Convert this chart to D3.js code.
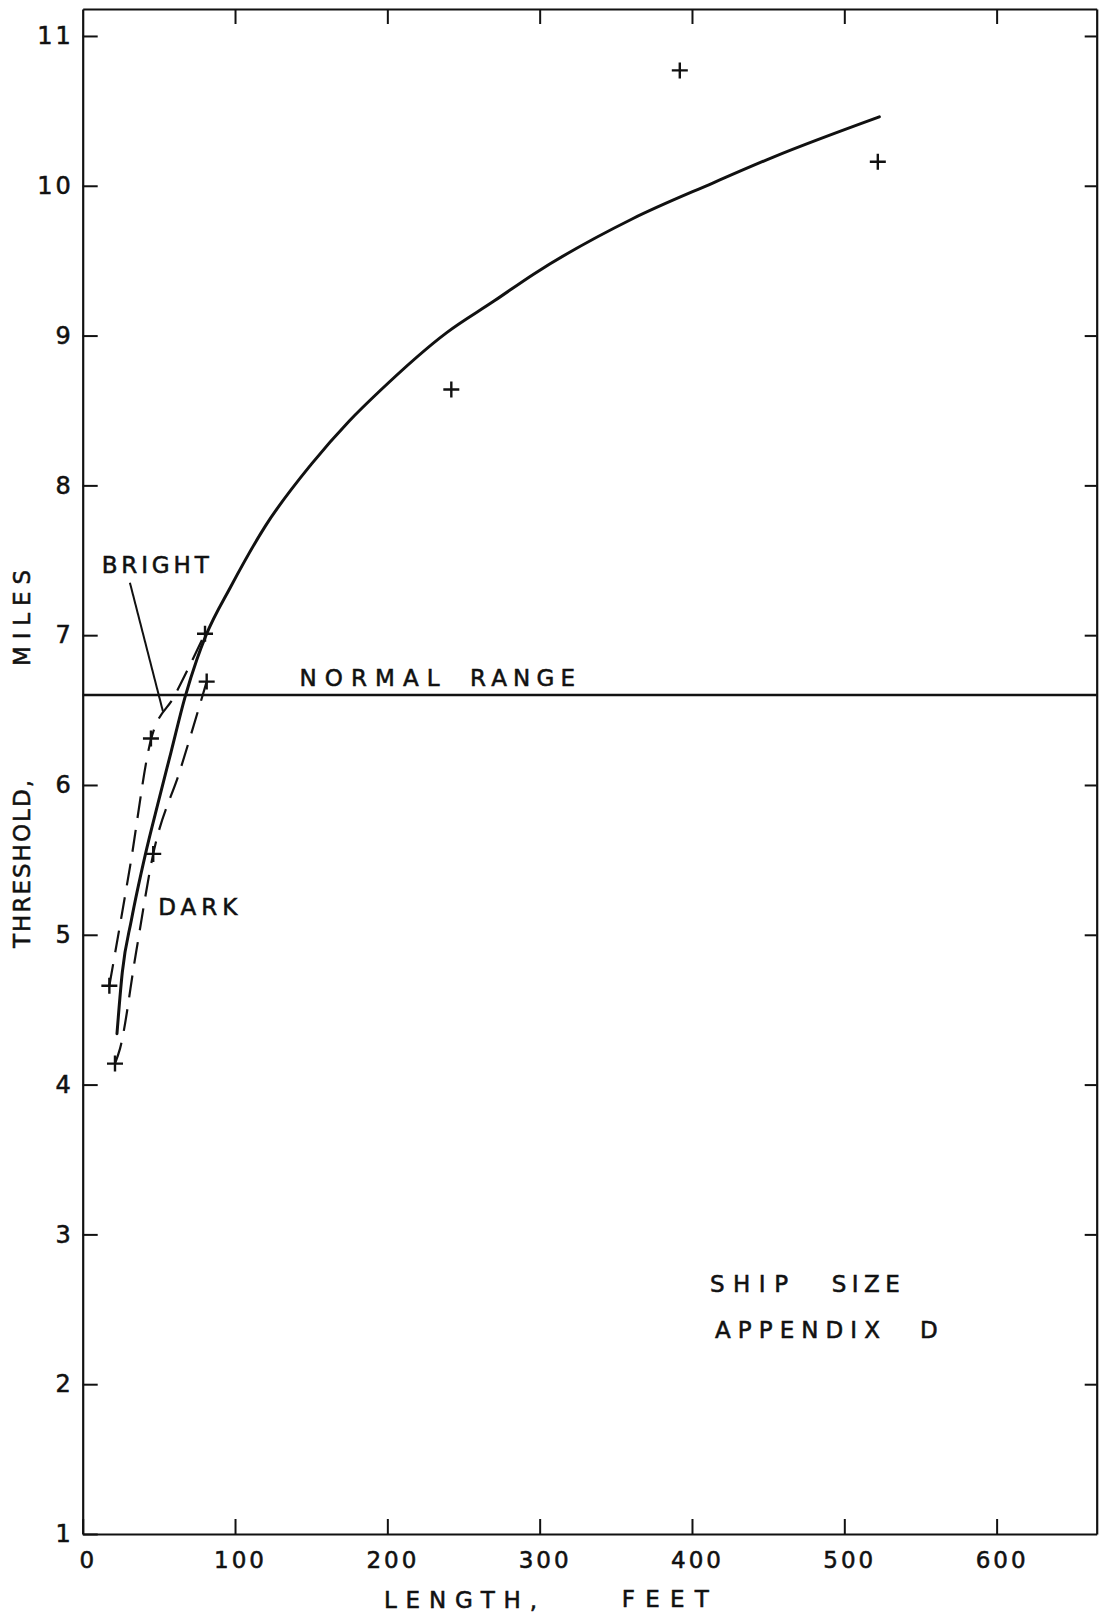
<!DOCTYPE html>
<html>
<head>
<meta charset="utf-8">
<script src="https://cdn.jsdelivr.net/npm/d3@7"></script>
<style>
  html, body { margin: 0; padding: 0; background: #fff; }
  svg { display: block; }
  text { font-family: "DejaVu Sans", "Liberation Sans", sans-serif; fill: #111; stroke: #111; stroke-width: 0.55px; }
</style>
</head>
<body>
<svg id="chart" width="1100" height="1619"></svg>
<script>
// Axis ticks
const X_TICKS = [0, 100, 200, 300, 400, 500, 600];
const Y_TICKS = [1, 2, 3, 4, 5, 6, 7, 8, 9, 10, 11];

// Observed thresholds (ship length in feet, threshold in miles)
const obsLength    = [392, 522, 242, 80.3, 81.4, 44.8, 46.3, 17.5, 21.2];
const obsThreshold = [10.77, 10.16, 8.64, 7.01, 6.69, 6.31, 5.54, 4.66, 4.14];

// Fitted curve (solid)
const fitLength    = [22.5, 26, 32, 41, 50, 58, 67, 75, 81, 97, 120, 150, 175, 195, 239, 270, 296, 361, 414, 453, 523];
const fitThreshold = [4.34, 4.75, 5.1, 5.53, 5.9, 6.22, 6.58, 6.84, 7.0, 7.32, 7.73, 8.14, 8.43, 8.63, 9.02, 9.23, 9.41, 9.78, 10.02, 10.19, 10.46];

// Bright background (dashed)
const brightLength    = [17.5, 31, 45, 60, 80.3];
const brightThreshold = [4.66, 5.45, 6.31, 6.59, 7.01];

// Dark background (dashed)
const darkLength    = [21.2, 24.5, 35, 46.3, 64, 81.4];
const darkThreshold = [4.14, 4.24, 4.88, 5.54, 6.1, 6.69];

// Normal range reference level (miles)
const NORMAL_RANGE = 6.6;

// Leader from the BRIGHT label to its curve (feet, miles)
const brightLeader = [[31, 7.35], [52.7, 6.49]];

const svg = d3.select("#chart");
const ink = "#111";

const x = d3.scaleLinear().domain([0, 665.7]).range([82.7, 1096.7]);
const y = d3.scaleLinear().domain([1, 11.18]).range([1534, 9]);

// ---- axes (ticks point inward on all four sides)
function styleAxis(g) {
  g.attr("font-family", null).attr("font-size", null);
  g.select(".domain").attr("stroke", ink).attr("stroke-width", 2.2);
  g.selectAll(".tick line").attr("stroke", ink).attr("stroke-width", 2);
}

const gBottom = svg.append("g")
  .attr("transform", `translate(0,${y(1)})`)
  .call(d3.axisBottom(x).tickValues(X_TICKS).tickSizeInner(-15).tickSizeOuter(0).tickPadding(18).tickFormat(d3.format("d")));
styleAxis(gBottom);
gBottom.selectAll(".tick text")
  .attr("font-size", 23).attr("letter-spacing", 3).attr("dx", 5).attr("fill", ink);

const gTop = svg.append("g")
  .attr("transform", `translate(0,${y(11.18)})`)
  .call(d3.axisTop(x).tickValues(X_TICKS.slice(1)).tickSizeInner(-15).tickSizeOuter(0).tickFormat(""));
styleAxis(gTop);

const gLeft = svg.append("g")
  .attr("transform", `translate(${x(0)},0)`)
  .call(d3.axisLeft(y).tickValues(Y_TICKS).tickSizeInner(-15).tickSizeOuter(0).tickPadding(9).tickFormat(d3.format("d")));
styleAxis(gLeft);
gLeft.selectAll(".tick text").attr("font-size", 24).attr("letter-spacing", 3).attr("fill", ink);

const gRight = svg.append("g")
  .attr("transform", `translate(${x(665.7)},0)`)
  .call(d3.axisRight(y).tickValues(Y_TICKS.slice(1)).tickSizeInner(-12).tickSizeOuter(0).tickFormat(""));
styleAxis(gRight);

// ---- normal range level
svg.append("line")
  .attr("x1", x(0)).attr("x2", x(665.7))
  .attr("y1", y(NORMAL_RANGE)).attr("y2", y(NORMAL_RANGE))
  .attr("stroke", ink).attr("stroke-width", 2.5);

// ---- curves
const toPts = (xs, ys) => xs.map((v, i) => [v, ys[i]]);
const line = d3.line().x(d => x(d[0])).y(d => y(d[1])).curve(d3.curveMonotoneX);

svg.append("path")
  .datum(toPts(fitLength, fitThreshold))
  .attr("d", line).attr("fill", "none")
  .attr("stroke", ink).attr("stroke-width", 3).attr("stroke-linecap", "round");

svg.append("path")
  .datum(toPts(brightLength, brightThreshold))
  .attr("d", line).attr("fill", "none")
  .attr("stroke", ink).attr("stroke-width", 2.2).attr("stroke-dasharray", "22,12");

svg.append("path")
  .datum(toPts(darkLength, darkThreshold))
  .attr("d", line).attr("fill", "none")
  .attr("stroke", ink).attr("stroke-width", 2.2).attr("stroke-dasharray", "22,12");

// leader line for the BRIGHT label
svg.append("line")
  .attr("x1", x(brightLeader[0][0])).attr("y1", y(brightLeader[0][1]))
  .attr("x2", x(brightLeader[1][0])).attr("y2", y(brightLeader[1][1]))
  .attr("stroke", ink).attr("stroke-width", 2);

// ---- observed points as crosses
const arm = 8;
svg.append("g").selectAll("path")
  .data(toPts(obsLength, obsThreshold))
  .join("path")
  .attr("d", d => {
    const cx = x(d[0]), cy = y(d[1]);
    return `M${cx - arm},${cy}H${cx + arm}M${cx},${cy - arm}V${cy + arm}`;
  })
  .attr("stroke", ink).attr("stroke-width", 2.4).attr("fill", "none");

// ---- lettering
function word(str, px, py, len, size = 23) {
  const t = svg.append("text")
    .attr("x", px).attr("y", py)
    .attr("font-size", size)
    .text(str);
  if (len) t.attr("textLength", len).attr("lengthAdjust", "spacing");
  return t;
}

word("BRIGHT", 101.7, 573.3, 107);
word("DARK", 158.3, 915, 79);
word("NORMAL", 299.5, 686, 140);
word("RANGE", 470, 686, 105);
word("SHIP", 710, 1291.7, 78);
word("SIZE", 831.7, 1291.7, 68);
word("APPENDIX", 715, 1338.3, 165);
word("D", 920, 1338.3);

// x-axis title
word("LENGTH,", 384, 1608, 153);
word("FEET", 621.7, 1607, 87);

// y-axis title, reading upward
svg.append("text")
  .attr("transform", "translate(30,948) rotate(-90)")
  .attr("font-size", 23)
  .attr("textLength", 168).attr("lengthAdjust", "spacing")
  .text("THRESHOLD,");
svg.append("text")
  .attr("transform", "translate(30,666) rotate(-90)")
  .attr("font-size", 23)
  .attr("textLength", 96).attr("lengthAdjust", "spacing")
  .text("MILES");
</script>
</body>
</html>
